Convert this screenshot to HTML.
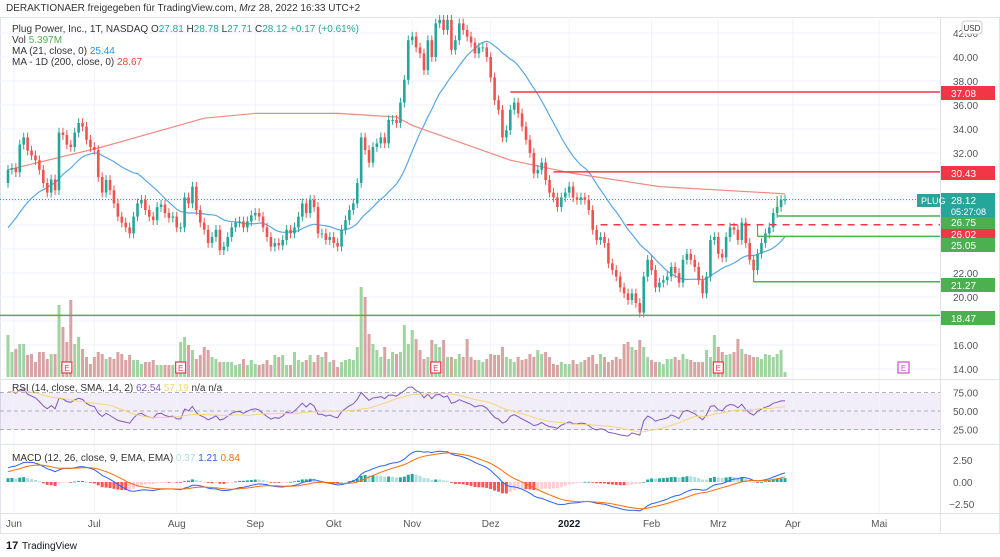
<!DOCTYPE html>
<html><head><meta charset="utf-8"><style>
html,body{margin:0;padding:0;background:#fff;}
svg{display:block;font-family:"Liberation Sans",sans-serif;}
</style></head><body>
<svg id="chart" width="1000" height="557" viewBox="0 0 1000 557" xmlns="http://www.w3.org/2000/svg">
<rect width="1000" height="557" fill="#fff"/>
<text x="6" y="11" font-size="10" fill="#333">DERAKTIONAER freigegeben für TradingView.com, <tspan font-style="italic">Mrz</tspan> 28, 2022 16:33 UTC+2</text>
<rect x="0.5" y="17.5" width="999" height="516" fill="none" stroke="#e0e3eb"/>
<rect x="0" y="393" width="940" height="37" fill="#7e57c2" fill-opacity="0.1"/>
<g id="grid"></g>
<g id="volume"></g>
<g id="lines"></g>
<g id="candles"></g>
<g id="levels"></g>
<g id="rsi"></g>
<g id="macd"></g>
<line x1="0" y1="379.5" x2="1000" y2="379.5" stroke="#e0e3eb"/>
<line x1="0" y1="444.5" x2="1000" y2="444.5" stroke="#e0e3eb"/>
<line x1="0" y1="513.5" x2="1000" y2="513.5" stroke="#e0e3eb"/>
<line x1="940.5" y1="17" x2="940.5" y2="533" stroke="#e0e3eb"/>
<g id="axis" font-size="10" fill="#555"></g>
<g id="xaxis" font-size="10" fill="#555"></g>
<g id="labels" font-size="10"></g>
<g font-size="10">
<text x="12" y="32" fill="#333">Plug Power, Inc., 1T, NASDAQ <tspan fill="#333">O</tspan><tspan fill="#26a69a">27.81</tspan> <tspan fill="#333">H</tspan><tspan fill="#26a69a">28.78</tspan> <tspan fill="#333">L</tspan><tspan fill="#26a69a">27.71</tspan> <tspan fill="#333">C</tspan><tspan fill="#26a69a">28.12</tspan> <tspan fill="#26a69a">+0.17 (+0.61%)</tspan></text>
<text x="12" y="43" fill="#333">Vol <tspan fill="#4caf50">5.397M</tspan></text>
<text x="12" y="54" fill="#333">MA (21, close, 0) <tspan fill="#2196f3">25.44</tspan></text>
<text x="12" y="65" fill="#333">MA - 1D (200, close, 0) <tspan fill="#f44336">28.67</tspan></text>
<text x="12" y="391" fill="#333">RSI (14, close, SMA, 14, 2) <tspan fill="#7e57c2">62.54</tspan> <tspan fill="#f5d67a">57.19</tspan> n/a n/a</text>
<text x="12" y="461" fill="#333">MACD (12, 26, close, 9, EMA, EMA) <tspan fill="#b2dfdb">0.37</tspan> <tspan fill="#2962ff">1.21</tspan> <tspan fill="#ff6d00">0.84</tspan></text>
</g>
<rect x="962" y="21" width="20" height="13" rx="3" fill="#fff" stroke="#ccc"/>
<text x="972" y="31" font-size="8" fill="#333" text-anchor="middle">USD</text>
<g>
<text x="6" y="549" font-size="11" fill="#131722" font-weight="bold">17</text>
<text x="22" y="549" font-size="10" fill="#131722">TradingView</text>
</g>
</svg>
<script>
const preCloses=[22.5,21.8,22.9,24.0,23.6,24.8,25.5,24.9,26.0,25.2,24.6,25.8,26.4,25.9,26.8,27.3,26.6,27.9,28.6,29.5];
const closes=[30.6,30.75,30.4,32.7,33.3,32.2,31.8,31.4,30.6,29.5,
28.7,29.8,28.9,33.7,33.5,32.7,32.5,33.7,34.5,34.2,
33.1,32.5,32.25,30.0,28.7,29.75,28.9,27.8,26.7,26.2,
25.8,25.3,26.7,27.8,28.1,27.25,26.7,26.4,27.5,27.7,
27.0,26.6,26.7,25.8,25.8,28.3,27.8,29.2,27.25,26.2,
25.6,24.5,25.0,25.6,23.9,24.2,25.0,25.8,26.2,26.3,
25.8,26.3,26.8,27.0,26.7,25.8,25.0,24.2,24.5,24.3,
24.75,25.6,25.3,25.8,26.7,27.8,27.0,28.1,27.5,25.3,
25.3,24.75,
25.0,24.5,24.2,25.6,26.4,27.25,27.8,29.5,33.3,32.25,
31.2,32.5,32.8,33.3,32.8,34.75,34.75,34.5,36.2,38.1,
41.4,41.7,40.8,40.3,38.9,41.4,40.0,42.8,43.1,42.25,
43.1,40.6,41.4,42.8,42.25,41.7,41.2,40.3,40.8,40.8,
40.0,38.3,36.4,35.6,33.3,33.9,35.6,36.2,35.3,34.2,
33.1,32.0,30.3,30.6,31.2,29.75,28.7,28.3,27.5,28.3,
28.7,29.2,28.3,28.1,28.3,28.1,27.25,25.6,24.75,25.0,
24.5,22.8,22.25,21.7,20.8,20.3,
19.75,20.3,19.5,18.7,21.7,23.1,22.25,20.8,21.2,21.4,
21.7,22.5,22.0,21.2,23.1,23.6,23.1,22.5,21.4,20.3,
21.7,24.75,25.0,23.6,23.3,25.0,25.8,25.6,24.75,26.2,
24.5,23.1,22.25,23.6,24.5,25.3,25.8,27.0,27.5,28.1,
28.12];
const volumes=[42,25,28,33,33,22,23,15,25,25,18,23,23,72,50,35,77,33,40,28,20,13,20,25,23,18,20,18,25,23,17,22,17,17,13,15,15,17,12,12,12,12,12,12,35,40,32,27,18,22,30,27,20,18,15,15,15,15,12,13,18,12,17,13,12,13,17,12,22,20,22,12,12,25,17,15,17,22,15,22,20,25,
15,17,10,15,17,18,17,30,90,80,43,33,27,20,30,18,25,23,25,52,33,47,38,27,18,20,37,33,30,37,20,20,18,23,20,38,20,17,17,15,18,23,22,22,30,20,18,15,20,17,18,23,20,27,23,25,20,13,12,15,13,13,17,13,15,17,20,22,13,23,20,15,17,20,18,33,
35,30,27,37,30,20,17,15,15,13,18,18,20,17,23,18,17,15,15,15,27,20,42,30,25,22,23,25,38,28,23,22,20,20,18,23,22,20,23,27,5];
const ma200Index=[0,24,50,63,84,99,103,128,144,166,198];
const ma200Values=[30.6,32.5,34.9,35.3,35.3,35.0,34.3,31.4,30.3,29.2,28.6];
const priceTicks=[42,40,38,36,34,32,22,20,16,14];
const monthLabels=["Jun","Jul","Aug","Sep","Okt","Nov","Dez","2022","Feb","Mrz","Apr","Mai"];
const monthIndex=[1.5,22,43,63,83,103,123,143,164,181,200,222];
const levelValues=[37.08,30.43,26.02,26.75,25.05,21.27,18.47];
const levelStart=[128,139,151,196,191,190,-2];
const levelColors=["#f23645","#f23645","#f23645","#4caf50","#4caf50","#4caf50","#4caf50"];
const levelLabelY=[93,173,234,222,245,285,318];
const earningsIndex=[15,44,109,181];

const NS="http://www.w3.org/2000/svg";
const N=closes.length;
const X=i=>8+i*(777/(N-1));
const PY=p=>57+(40-p)*12;
const VY=v=>377-v;
const RY=r=>411-(r-50)*0.74;
const MY=m=>482-m*8.8;
function mk(tag,attrs,parent){const e=document.createElementNS(NS,tag);for(const k in attrs)e.setAttribute(k,attrs[k]);parent.appendChild(e);return e;}
const g=id=>document.getElementById(id);

// grid
for(let p=14;p<=42;p+=2){const l=mk('line',{x1:0,x2:940,y1:PY(p),y2:PY(p),stroke:'#f0f3fa'},g('grid'));

}
monthIndex.forEach(mi=>{const l=mk('line',{x1:X(mi),x2:X(mi),y1:17,y2:513,stroke:'#f0f3fa'},g('grid'));

});

// full series
const all=preCloses.concat(closes);const P=preCloses.length;
// volume
closes.forEach((c,i)=>{const o=i?closes[i-1]:preCloses[P-1];const up=c>=o;
const r=mk('rect',{x:X(i)-1.5,y:VY(volumes[i]),width:3,height:377-VY(volumes[i]),fill:up?'#9fd3a0':'#d9a3a3'},g('volume'));

});
// MA21
let d='';closes.forEach((c,i)=>{let s=0;for(let k=0;k<21;k++)s+=all[P+i-k];d+=(i?'L':'M')+X(i).toFixed(1)+' '+PY(s/21).toFixed(1);});
let e=mk('path',{d:d,fill:'none',stroke:'#5aa7e6','stroke-width':1.2},g('lines'));


d='';ma200Index.forEach((mi,k)=>{d+=(k?'L':'M')+X(mi).toFixed(1)+' '+PY(ma200Values[k]).toFixed(1);});
e=mk('path',{d:d,fill:'none',stroke:'#f08a80','stroke-width':1.2},g('lines'));


e=mk('line',{x1:0,x2:918,y1:PY(28.12),y2:PY(28.12),stroke:'#26a69a','stroke-dasharray':'1 2'},g('lines'));


// candles
closes.forEach((c,i)=>{const o=i?closes[i-1]:preCloses[P-1];const up=c>=o;const col=up?'#26a69a':'#ef5350';
const hi=Math.max(o,c)+0.4,lo=Math.min(o,c)-0.4;
const w=mk('line',{x1:X(i),x2:X(i),y1:PY(hi),y2:PY(lo),stroke:col,'stroke-width':1},g('candles'));


const b=mk('rect',{x:X(i)-1.3,y:PY(Math.max(o,c)),width:2.6,height:Math.max(1,Math.abs(PY(o)-PY(c))),fill:col},g('candles'));

});
// levels
levelValues.forEach((v,k)=>{const l=mk('line',{x1:levelStart[k]<0?0:X(levelStart[k]),x2:940,y1:PY(v),y2:PY(v),stroke:levelColors[k],'stroke-width':1.5},g('levels'));
if(k===2)l.setAttribute('stroke-dasharray','7 6');


const r=mk('rect',{x:941,y:levelLabelY[k]-7,width:54,height:14,fill:levelColors[k]},g('labels'));


const t=mk('text',{x:951,y:levelLabelY[k]+4,fill:'#fff'},g('labels'));t.textContent=v.toFixed(2);

});
// verticals from levels start ticks
[[196,26.75,28.4],[191,25.05,26.0],[190,21.27,23.0]].forEach(a=>{const l=mk('line',{x1:X(a[0]),x2:X(a[0]),y1:PY(a[1]),y2:PY(a[2]),stroke:'#4caf50','stroke-width':1.2},g('levels'));

});
// last price label
e=mk('rect',{x:941,y:193,width:54,height:24,fill:'#26a69a'},g('labels'));


e=mk('text',{x:951,y:204,fill:'#fff'},g('labels'));e.textContent='28.12';


e=mk('text',{x:951,y:215,fill:'#fff','font-size':9},g('labels'));e.textContent='05:27:08';


e=mk('rect',{x:917,y:194,width:23,height:13,fill:'#26a69a'},g('labels'));


e=mk('text',{x:921,y:204,fill:'#fff','font-size':9},g('labels'));e.textContent='PLUG';


// earnings markers
earningsIndex.forEach(ei=>{const r=mk('rect',{x:X(ei)-5,y:362,width:10,height:11,fill:'#fff',stroke:'#f23645','stroke-width':1.2},g('labels'));


const t=mk('text',{x:X(ei),y:371,fill:'#f23645','font-size':8,'text-anchor':'middle'},g('labels'));t.textContent='E';

});
e=mk('rect',{x:898,y:362,width:11,height:11,fill:'#fff',stroke:'#d24bd2','stroke-width':1.2},g('labels'));


e=mk('text',{x:903.5,y:371,fill:'#d24bd2','font-size':8,'text-anchor':'middle'},g('labels'));e.textContent='E';


// price axis
priceTicks.forEach(p=>{const t=mk('text',{x:953,y:PY(p)+4},g('axis'));t.textContent=p.toFixed(2);

});
[[75,RY(75)],[50,RY(50)],[25,RY(25)]].forEach(a=>{const t=mk('text',{x:953,y:a[1]+4},g('axis'));t.textContent=a[0].toFixed(2);

});
[2.5,0,-2.5].forEach(m=>{const t=mk('text',{x:m<0?949:953,y:MY(m)+4},g('axis'));t.textContent=m.toFixed(2).replace('-','−');

});
monthLabels.forEach((m,k)=>{const t=mk('text',{x:X(monthIndex[k]),y:527,'text-anchor':'middle','font-weight':m==='2022'?'bold':'normal',fill:m==='2022'?'#131722':'#555'},g('xaxis'));t.textContent=m;

});
// RSI
[75,50,25].forEach(r=>{const l=mk('line',{x1:0,x2:940,y1:RY(r),y2:RY(r),stroke:'#9598a1','stroke-dasharray':'4 3','stroke-width':0.8},g('rsi'));

});
let ag=0,al=0;const rsi=[];
for(let j=1;j<all.length;j++){const ch=all[j]-all[j-1];const gn=Math.max(ch,0),ls=Math.max(-ch,0);
if(j<=14){ag+=gn/14;al+=ls/14;}else{ag=(ag*13+gn)/14;al=(al*13+ls)/14;}
if(j>=P)rsi.push(al===0?100:100-100/(1+ag/al));}
d='';rsi.forEach((r,i)=>{d+=(i?'L':'M')+X(i).toFixed(1)+' '+RY(r).toFixed(1);});
e=mk('path',{d:d,fill:'none',stroke:'#7e57c2','stroke-width':1},g('rsi'));


d='';rsi.forEach((r,i)=>{const a=rsi.slice(Math.max(0,i-13),i+1);const m=a.reduce((s,v)=>s+v,0)/a.length;d+=(i?'L':'M')+X(i).toFixed(1)+' '+RY(m).toFixed(1);});
e=mk('path',{d:d,fill:'none',stroke:'#f5d67a','stroke-width':1},g('rsi'));


// MACD
let e12=all[0],e26=all[0],sig=0;const mac=[],sg=[];
all.forEach((c,j)=>{e12+=(c-e12)*2/13;e26+=(c-e26)*2/27;const m=e12-e26;sig+=(m-sig)*2/10;if(j>=P){mac.push(m);sg.push(sig);}});
mac.forEach((m,i)=>{const h=m-sg[i];const ph=i?mac[i-1]-sg[i-1]:h;
const col=h>=0?(h>=ph?'#26a69a':'#b2dfdb'):(h<ph?'#ff5252':'#ffcdd2');
const r=mk('rect',{x:X(i)-1.5,y:Math.min(MY(0),MY(h)),width:3,height:Math.max(0.8,Math.abs(MY(h)-MY(0))),fill:col},g('macd'));

});
d='';mac.forEach((m,i)=>{d+=(i?'L':'M')+X(i).toFixed(1)+' '+MY(m).toFixed(1);});
e=mk('path',{d:d,fill:'none',stroke:'#2962ff','stroke-width':1},g('macd'));


d='';sg.forEach((m,i)=>{d+=(i?'L':'M')+X(i).toFixed(1)+' '+MY(m).toFixed(1);});
e=mk('path',{d:d,fill:'none',stroke:'#ff6d00','stroke-width':1},g('macd'));


</script>
</body></html>
